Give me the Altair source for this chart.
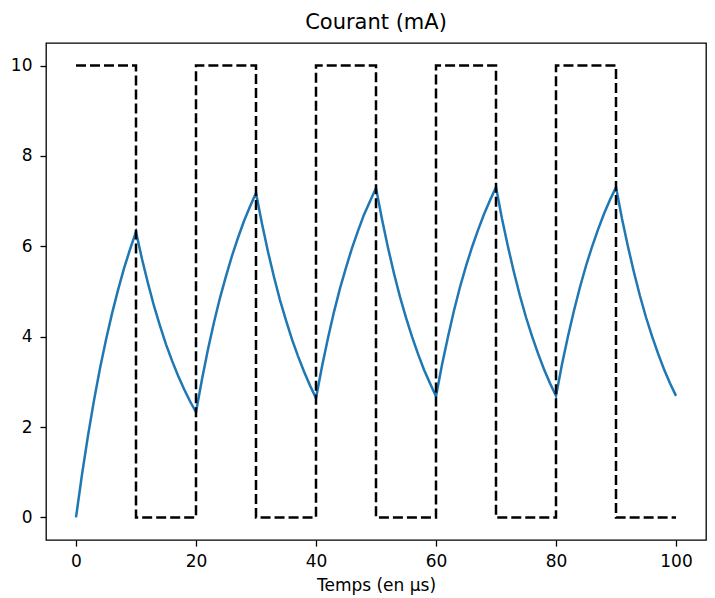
import altair as alt
import pandas as pd

# Temps (µs) and current (mA)
temps = list(range(101))
courant = [
    0.00, 0.95, 1.81, 2.59, 3.30, 3.93, 4.51, 5.03, 5.51, 5.93, 6.32,
    5.72, 5.18, 4.68, 4.24, 3.83, 3.47, 3.14, 2.84, 2.57, 2.33,
    3.06, 3.72, 4.32, 4.86, 5.34, 5.79, 6.19, 6.56, 6.88, 7.18,
    6.50, 5.88, 5.32, 4.81, 4.36, 3.94, 3.57, 3.23, 2.92, 2.64,
    3.34, 3.97, 4.55, 5.07, 5.53, 5.96, 6.34, 6.70, 7.00, 7.29,
    6.60, 5.97, 5.40, 4.88, 4.42, 4.00, 3.62, 3.27, 2.97, 2.68,
    3.38, 4.00, 4.58, 5.10, 5.56, 5.98, 6.36, 6.71, 7.02, 7.31,
    6.61, 5.99, 5.42, 4.90, 4.43, 4.01, 3.63, 3.28, 2.97, 2.69,
    3.39, 4.01, 4.58, 5.10, 5.57, 5.99, 6.37, 6.72, 7.03, 7.31,
    6.61, 5.99, 5.42, 4.90, 4.43, 4.01, 3.63, 3.28, 2.97, 2.69,
]

# Square command signal (dashed)
temps_carre = [0, 10, 10, 20, 20, 30, 30, 40, 40, 50, 50, 60, 60, 70, 70, 80, 80, 90, 90, 100]
valeurs_carre = [10, 10, 0, 0, 10, 10, 0, 0, 10, 10, 0, 0, 10, 10, 0, 0, 10, 10, 0, 0]

x_ticks = [0, 20, 40, 60, 80, 100]
y_ticks = [0, 2, 4, 6, 8, 10]

df_c = pd.DataFrame({"t": temps, "i": courant, "o": list(range(len(temps)))})
df_s = pd.DataFrame({"t": temps_carre, "v": valeurs_carre, "o": list(range(len(temps_carre)))})

FONT = "DejaVu Sans"

x_scale = alt.Scale(domain=[-5, 105], nice=False, zero=False)
y_scale = alt.Scale(domain=[-0.5, 10.5], nice=False, zero=False)

x_axis = alt.Axis(values=x_ticks, title="Temps (en μs)", grid=False, domain=False,
                  tickSize=6, tickWidth=1.3, tickColor="black",
                  labelFontSize=17, labelFont=FONT, labelColor="black", labelPadding=7,
                  titleFontSize=17, titleFont=FONT, titleFontWeight="normal",
                  titleColor="black", titlePadding=8, labelFlush=False)
y_axis = alt.Axis(values=y_ticks, title=None, grid=False, domain=False,
                  tickSize=6, tickWidth=1.3, tickColor="black",
                  labelFontSize=17, labelFont=FONT, labelColor="black", labelPadding=8,
                  labelFlush=False)

blue = alt.Chart(df_c).mark_line(color="#1f77b4", strokeWidth=2.5, clip=True).encode(
    x=alt.X("t:Q", scale=x_scale, axis=x_axis),
    y=alt.Y("i:Q", scale=y_scale, axis=y_axis),
    order="o:Q",
)

square = alt.Chart(df_s).mark_line(color="black", strokeWidth=2.5, strokeDash=[10, 4], clip=True).encode(
    x=alt.X("t:Q", scale=x_scale),
    y=alt.Y("v:Q", scale=y_scale),
    order="o:Q",
)

chart = alt.layer(blue, square).properties(
    width=660,
    height=497,
    title=alt.TitleParams("Courant (mA)", font=FONT, fontSize=21, fontWeight="normal",
                          color="black", offset=10, anchor="middle"),
    autosize=alt.AutoSizeParams(type="none"),
    padding={"left": 38, "top": 35, "right": 1, "bottom": 58},
).configure(background="white").configure_view(stroke="black", strokeWidth=1.3)

chart.save("out.html", embed_options={"renderer": "svg", "actions": False})
